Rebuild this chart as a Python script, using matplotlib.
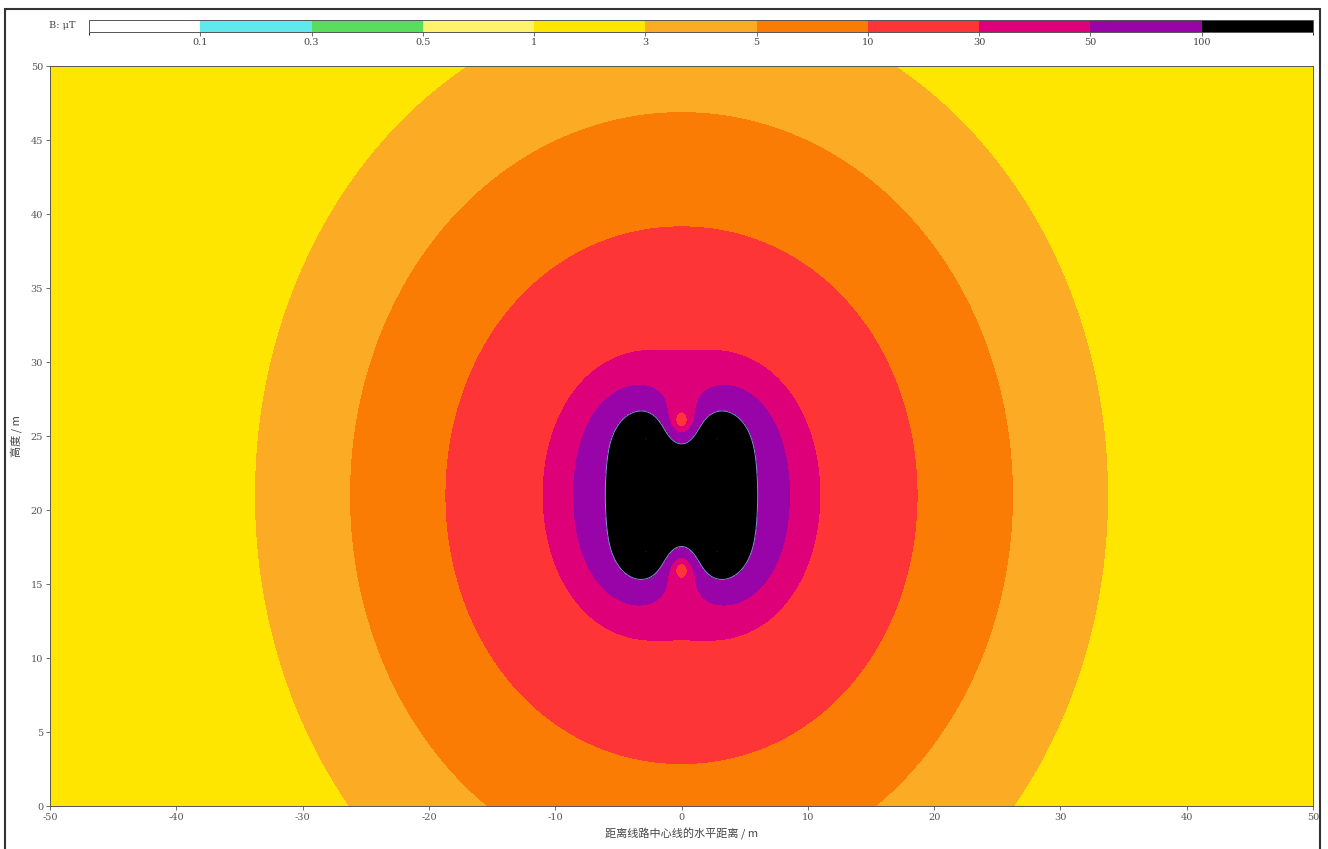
import numpy as np
import matplotlib
matplotlib.use("Agg")
import matplotlib.pyplot as plt
from matplotlib.colors import ListedColormap, BoundaryNorm
from matplotlib.cm import ScalarMappable
from matplotlib.patches import Rectangle

plt.rcParams['font.family'] = ['Noto Sans CJK SC', 'DejaVu Sans']
plt.rcParams['axes.unicode_minus'] = False

# === conductor layout: double circuit, like phasing (A top, B middle, C bottom) ===
cond_x = [-2.8, -2.8, -2.8, 2.8, 2.8, 2.8]
cond_y = [24.8, 21.0, 17.2, 24.8, 21.0, 17.2]
phase_deg = [0, -120, 120, 0, -120, 120]
current_a = 1284.0  # RMS current per conductor

# === colour classes (B in uT) ===
levels = [0.1, 0.3, 0.5, 1, 3, 5, 10, 30, 50, 100]
level_labels = ['0.1', '0.3', '0.5', '1', '3', '5', '10', '30', '50', '100']
class_colors = ['#ffffff', '#5fe9ec', '#58de5c', '#fff36e', '#ffe600', '#fcab25',
                '#fb7c05', '#fd3536', '#de0078', '#9804a8', '#000000']

# === field on grid ===
x = np.linspace(-50, 50, 1001)
y = np.linspace(0, 50, 501)
X, Y = np.meshgrid(x, y)
Bx = np.zeros(X.shape, dtype=complex)
By = np.zeros(X.shape, dtype=complex)
for cx, cy, ph in zip(cond_x, cond_y, phase_deg):
    I = current_a * np.exp(1j * np.deg2rad(ph))
    dx = X - cx
    dy = Y - cy
    r2 = np.maximum(dx**2 + dy**2, 1e-4)
    Bx += 0.2 * I * (-dy) / r2   # mu0/(2pi) = 0.2 uT*m/A
    By += 0.2 * I * dx / r2
B = np.sqrt(np.abs(Bx)**2 + np.abs(By)**2)
B = np.minimum(B, 1e4)

# === plot ===
fig = plt.figure(figsize=(13.28, 8.49), dpi=100)
ax = fig.add_axes([50 / 1328, 43 / 849, 1263 / 1328, 740 / 849])
bounds = [0] + levels + [1e5]
ax.contourf(X, Y, B, levels=bounds, colors=class_colors)
ax.contour(X, Y, B, levels=[100], colors='#8c8ce0', linewidths=0.7)
ax.set_xlim(-50, 50)
ax.set_ylim(0, 50)
ax.set_xticks(np.arange(-50, 51, 10))
ax.set_yticks(np.arange(0, 51, 5))
for lab in ax.get_xticklabels() + ax.get_yticklabels():
    lab.set_family('DejaVu Serif')
    lab.set_fontsize(7)
    lab.set_color('#444444')
ax.tick_params(length=3, width=0.6, colors='#555555', pad=2)
for s in ax.spines.values():
    s.set_linewidth(0.7)
    s.set_color('#555555')
ax.set_xlabel('距离线路中心线的水平距离 / m', fontsize=8, color='#444444', labelpad=4)
ax.set_ylabel('高度 / m', fontsize=8, color='#444444', labelpad=6)

# colour bar at top, equal-width classes
cax = fig.add_axes([89 / 1328, 817 / 849, 1224 / 1328, 12 / 849])
cmap = ListedColormap(class_colors)
norm = BoundaryNorm(np.arange(len(class_colors) + 1), len(class_colors))
cb = fig.colorbar(ScalarMappable(norm=norm, cmap=cmap), cax=cax, orientation='horizontal',
                  ticks=np.arange(1, len(class_colors)))
cb.set_ticklabels(level_labels)
cb.outline.set_linewidth(0.7)
cb.outline.set_edgecolor('#555555')
cax.tick_params(length=3, width=0.6, colors='#555555', pad=1)
for lab in cax.get_xticklabels():
    lab.set_family('DejaVu Serif')
    lab.set_fontsize(7)
    lab.set_color('#444444')
fig.text(62 / 1328, 1 - 26 / 849, 'B: μT', fontsize=7, color='#444444',
         ha='center', va='center', family=['DejaVu Serif'])

# frame around the figure
fig.add_artist(Rectangle((5 / 1328, -0.05), 1315 / 1328, 1.05 - 9 / 849,
                         transform=fig.transFigure, fill=False,
                         edgecolor='#333333', linewidth=1.5))

fig.savefig('out.png', dpi=100)
